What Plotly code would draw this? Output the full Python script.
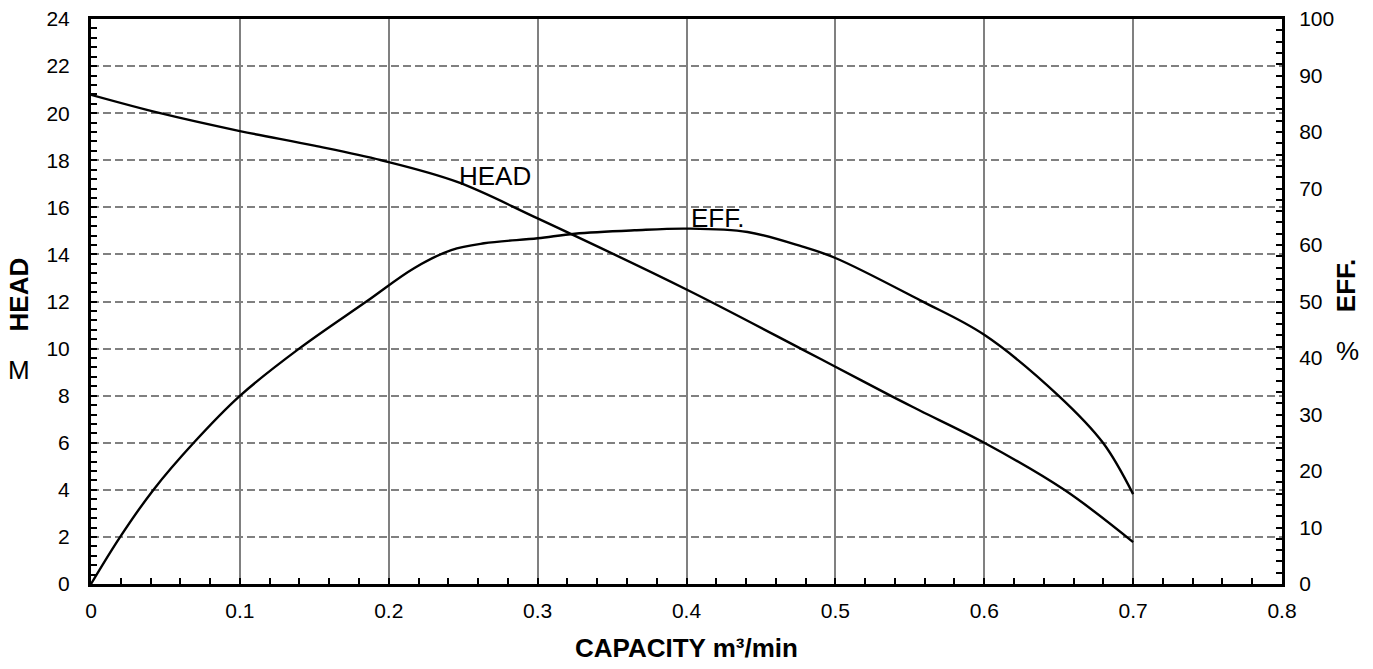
import plotly.graph_objects as go

# ---- data ----
head_x = [0, 0.0465, 0.1, 0.15, 0.195, 0.246, 0.3, 0.4, 0.477, 0.5, 0.537, 0.557,
          0.6, 0.654, 0.7]
head_y = [20.78, 20.0, 19.24, 18.62, 18.0, 17.08, 15.53, 12.51, 9.99, 9.23, 8.0, 7.36,
          6.0, 3.99, 1.78]

eff_x = [0, 0.0195, 0.042, 0.069, 0.1, 0.14, 0.185, 0.217, 0.242, 0.264, 0.3, 0.325,
         0.365, 0.4, 0.441, 0.478, 0.5, 0.557, 0.6, 0.65, 0.68, 0.7]
eff_y = [0, 8.3, 16.7, 25.0, 33.3, 41.7, 50.0, 55.9, 59.1, 60.3, 61.2, 62.0,
         62.6, 62.9, 62.3, 59.7, 57.7, 50.2, 44.1, 33.3, 24.9, 15.9]

x_ticks = [0, 0.1, 0.2, 0.3, 0.4, 0.5, 0.6, 0.7, 0.8]
x_ticklabels = ["0", "0.1", "0.2", "0.3", "0.4", "0.5", "0.6", "0.7", "0.8"]

FONT = "Liberation Sans, Arial, sans-serif"
TICK = 21
TITLE = 26

fig = go.Figure()
fig.add_trace(go.Scatter(x=head_x, y=head_y, mode="lines", name="HEAD",
                         line=dict(color="black", width=2.4, shape="spline", smoothing=1.0),
                         yaxis="y", showlegend=False, hoverinfo="skip"))
fig.add_trace(go.Scatter(x=eff_x, y=eff_y, mode="lines", name="EFF.",
                         line=dict(color="black", width=2.4, shape="spline", smoothing=1.0),
                         yaxis="y2", showlegend=False, hoverinfo="skip"))

fig.update_layout(
    width=1373, height=669,
    margin=dict(l=91, r=91, t=19, b=85, autoexpand=False),
    paper_bgcolor="white", plot_bgcolor="white",
    font=dict(family=FONT, size=TICK, color="black"),
    xaxis=dict(
        range=[0, 0.8], tickvals=x_ticks, ticktext=x_ticklabels,
        showline=True, linecolor="black", linewidth=3, mirror=True,
        showgrid=True, gridcolor="#808080", gridwidth=2,
        ticks="inside", ticklen=6, tickwidth=2, tickcolor="black",
        minor=dict(dtick=0.02, ticks="inside", ticklen=6, tickwidth=2,
                   tickcolor="black", showgrid=False),
        zeroline=False, ticklabelstandoff=6, automargin=False,
        tickfont=dict(size=TICK, color="black"),
    ),
    yaxis=dict(
        range=[0, 24], dtick=2, tick0=0,
        showline=True, linecolor="black", linewidth=3,
        showgrid=True, gridcolor="#808080", gridwidth=2, griddash="8px,4px",
        ticks="inside", ticklen=6, tickwidth=2, tickcolor="black",
        minor=dict(dtick=0.4, ticks="inside", ticklen=6, tickwidth=2,
                   tickcolor="black", showgrid=False),
        zeroline=False, ticklabelstandoff=14, automargin=False,
        tickfont=dict(size=TICK, color="black"),
    ),
    yaxis2=dict(
        range=[0, 100], dtick=10, tick0=0, overlaying="y", side="right",
        showline=True, linecolor="black", linewidth=3,
        showgrid=False,
        ticks="inside", ticklen=6, tickwidth=2, tickcolor="black",
        minor=dict(dtick=2, ticks="inside", ticklen=6, tickwidth=2,
                   tickcolor="black", showgrid=False),
        zeroline=False, ticklabelstandoff=10, automargin=False,
        tickfont=dict(size=TICK, color="black"),
    ),
)

ann = []
# curve labels
ann.append(dict(x=0.2458, y=17.33, xref="x", yref="y", text="HEAD", showarrow=False,
                xanchor="left", yanchor="middle", font=dict(size=TITLE, family=FONT)))
ann.append(dict(x=0.4016, y=15.53, xref="x", yref="y", text="EFF.", showarrow=False,
                xanchor="left", yanchor="middle", font=dict(size=TITLE, family=FONT)))
# axis titles
ann.append(dict(x=-0.0607, y=0.512, xref="paper", yref="paper", text="<b>HEAD</b>",
                showarrow=False, textangle=-90, xanchor="center", yanchor="middle",
                font=dict(size=TITLE, family=FONT)))
ann.append(dict(x=-0.0605, y=0.379, xref="paper", yref="paper", text="M",
                showarrow=False, xanchor="center", yanchor="middle",
                font=dict(size=TITLE, family=FONT)))
ann.append(dict(x=1.0533, y=0.528, xref="paper", yref="paper", text="<b>EFF.</b>",
                showarrow=False, textangle=-90, xanchor="center", yanchor="middle",
                font=dict(size=TITLE, family=FONT)))
ann.append(dict(x=1.0552, y=0.413, xref="paper", yref="paper", text="%",
                showarrow=False, xanchor="center", yanchor="middle",
                font=dict(size=TITLE, family=FONT)))
ann.append(dict(x=0.4998, y=-0.113, xref="paper", yref="paper",
                text="<b>CAPACITY m³/min</b>",
                showarrow=False, xanchor="center", yanchor="middle",
                font=dict(size=TITLE, family=FONT)))
fig.update_layout(annotations=ann)

fig.write_html("out.html", config={"displayModeBar": False},
               post_script="document.body.style.margin='0px';document.body.style.overflow='hidden';")
